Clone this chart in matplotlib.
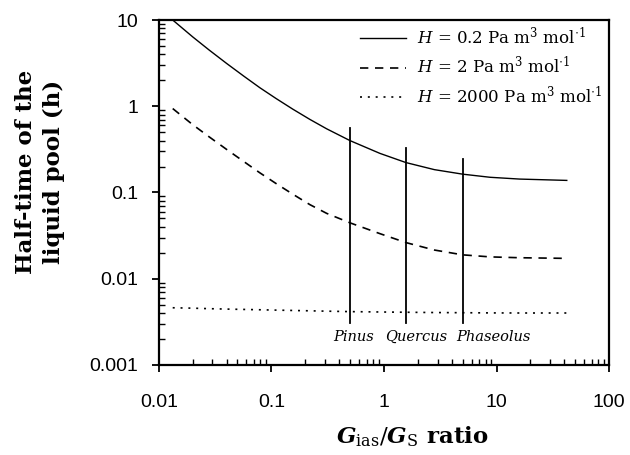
import matplotlib
matplotlib.use("Agg")
import matplotlib.pyplot as plt
from matplotlib.ticker import LogLocator, NullFormatter, FixedFormatter, FixedLocator

# ── Données ──────────────────────────────────────────────────────
ratio = [0.0133, 0.02, 0.028, 0.04, 0.057, 0.079, 0.11, 0.155, 0.22, 0.31, 0.5,
         0.92, 1.57, 2.8, 5.0, 8.75, 16.0, 42.0]
h_02 = [10.0, 6.38, 4.49, 3.14, 2.23, 1.64, 1.23, 0.925, 0.703, 0.547, 0.399,
        0.284, 0.222, 0.184, 0.163, 0.150, 0.143, 0.138]
h_2 = [0.94, 0.612, 0.442, 0.316, 0.228, 0.169, 0.127, 0.0955, 0.0722, 0.0572, 0.0444,
       0.0333, 0.0262, 0.0215, 0.0189, 0.0179, 0.0175, 0.0172]
h_2000 = [0.0046, 0.00455, 0.00449, 0.00444, 0.0044, 0.00436, 0.00432, 0.00428, 0.00424, 0.0042, 0.00415,
          0.00411, 0.00408, 0.00405, 0.00403, 0.00401, 0.0040, 0.0040]

especes = ["Pinus", "Quercus", "Phaseolus"]
especes_ratio = [0.5, 1.57, 5.0]
especes_haut = [0.56, 0.329, 0.245]
especes_bas = 0.0031
especes_texte_x = [0.54, 1.93, 9.3]

legendes = [r"$H$ = 0.2 Pa m$^3$ mol$^{\cdot 1}$",
            r"$H$ = 2 Pa m$^3$ mol$^{\cdot 1}$",
            r"$H$ = 2000 Pa m$^3$ mol$^{\cdot 1}$"]

plt.rcParams["mathtext.fontset"] = "dejavuserif"

fig = plt.figure(figsize=(6.3, 4.55), dpi=100)
ax = fig.add_axes([0.252, 0.198, 0.715, 0.758])

ax.plot(ratio, h_02, color="black", lw=1.0, label=legendes[0])
ax.plot(ratio, h_2, color="black", lw=1.2, ls=(0, (5, 4)), label=legendes[1])
ax.plot(ratio, h_2000, color="black", lw=1.2, ls=(0, (1.2, 3.5)), label=legendes[2])

# traits verticaux des espèces
for x, haut in zip(especes_ratio, especes_haut):
    ax.plot([x, x], [especes_bas, haut], color="black", lw=1.3)

for nom, xt_ in zip(especes, especes_texte_x):
    ax.text(xt_, 0.0021, nom, family="DejaVu Serif", style="italic", fontsize=10.5,
            ha="center", va="center")

ax.set_xscale("log")
ax.set_yscale("log")
ax.set_xlim(0.01, 100)
ax.set_ylim(0.001, 10)

xt = [0.01, 0.1, 1, 10, 100]
yt = [0.001, 0.01, 0.1, 1, 10]
ax.xaxis.set_major_locator(FixedLocator(xt))
ax.xaxis.set_major_formatter(FixedFormatter(["0.01", "0.1", "1", "10", "100"]))
ax.yaxis.set_major_locator(FixedLocator(yt))
ax.yaxis.set_major_formatter(FixedFormatter(["0.001", "0.01", "0.1", "1", "10"]))
ax.xaxis.set_minor_locator(LogLocator(base=10, subs=range(2, 10), numticks=20))
ax.yaxis.set_minor_locator(LogLocator(base=10, subs=range(2, 10), numticks=20))
ax.xaxis.set_minor_formatter(NullFormatter())
ax.yaxis.set_minor_formatter(NullFormatter())

ax.tick_params(which="major", direction="out", length=5, width=1.3, labelsize=14)
ax.tick_params(which="minor", direction="in", length=4, width=1.0)
ax.tick_params(axis="x", which="major", pad=16)
ax.tick_params(axis="y", which="major", pad=10)
for lab in ax.get_xticklabels() + ax.get_yticklabels():
    lab.set_family("Liberation Sans")

for s in ax.spines.values():
    s.set_linewidth(1.6)

fig.text(412 / 630, 1 - 437 / 455,
         r"$\mathbfit{G}_{\mathrm{ias}}/\mathbfit{G}_{\mathrm{S}}$ ratio",
         family="DejaVu Serif", fontweight="bold", fontsize=16.5, ha="center", va="center")
fig.text(40 / 630, 1 - 172 / 455, "Half-time of the\nliquid pool (h)", family="DejaVu Serif",
         fontweight="bold", fontsize=16.5, linespacing=1.35, rotation=90,
         ha="center", va="center", multialignment="center")

leg = ax.legend(loc="upper right", frameon=False, prop={"family": "DejaVu Serif", "size": 12},
                handlelength=2.75, handletextpad=0.7, labelspacing=0.5, borderaxespad=0.0)

fig.savefig("out.png", dpi=100)
